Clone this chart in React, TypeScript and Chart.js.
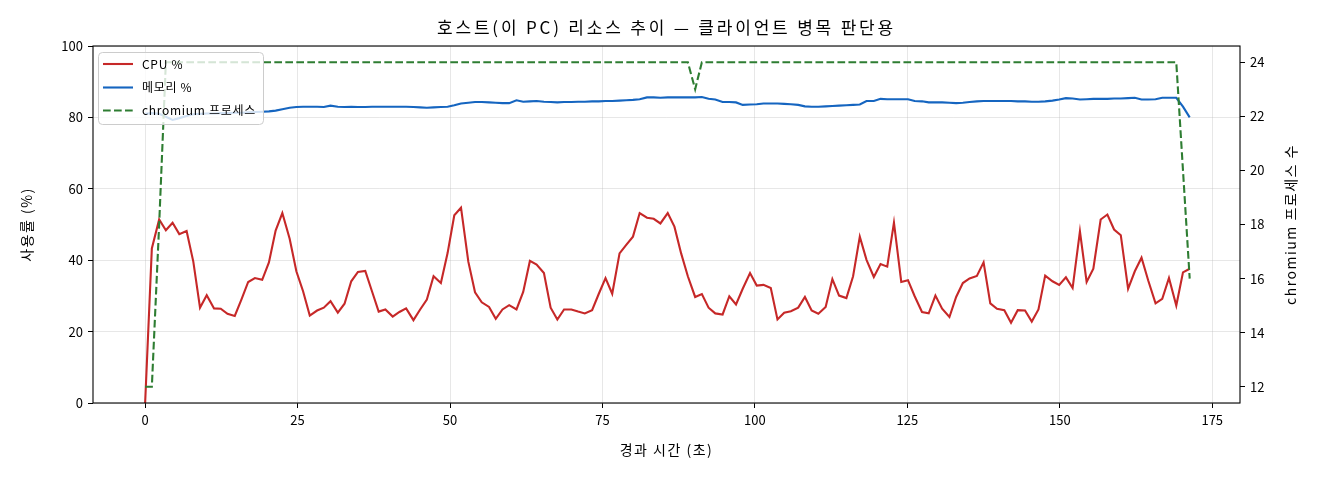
import React, { useEffect, useRef } from "react";
import { Chart, registerables } from "chart.js";

Chart.register(...registerables);

const TITLE = "호스트(이 PC) 리소스 추이 — 클라이언트 병목 판단용";
const X_LABEL = "경과 시간 (초)";
const Y_LABEL = "사용률 (%)";
const Y2_LABEL = "chromium 프로세스 수";
const SERIES_LABELS = ["CPU %", "메모리 %", "chromium 프로세스"];

// elapsed seconds of each sample
const times = [
  0.0, 1.1, 2.3, 3.4, 4.5, 5.6, 6.8, 7.9, 9.0, 10.1, 11.3, 12.4, 13.5, 14.7, 15.8, 16.9, 18.0, 19.2, 20.3, 21.4,
  22.5, 23.7, 24.8, 25.9, 27.0, 28.2, 29.3, 30.4, 31.6, 32.7, 33.8, 34.9, 36.1, 37.2, 38.3, 39.4, 40.6, 41.7, 42.8, 44.0,
  45.1, 46.2, 47.3, 48.5, 49.6, 50.7, 51.8, 53.0, 54.1, 55.2, 56.4, 57.5, 58.6, 59.7, 60.9, 62.0, 63.1, 64.2, 65.4, 66.5,
  67.6, 68.7, 69.9, 71.0, 72.1, 73.3, 74.4, 75.5, 76.6, 77.8, 78.9, 80.0, 81.1, 82.3, 83.4, 84.5, 85.7, 86.8, 87.9, 89.0,
  90.2, 91.3, 92.4, 93.5, 94.7, 95.8, 96.9, 98.0, 99.2, 100.3, 101.4, 102.6, 103.7, 104.8, 105.9, 107.1, 108.2, 109.3, 110.4, 111.6,
  112.7, 113.8, 115.0, 116.1, 117.2, 118.3, 119.5, 120.6, 121.7, 122.8, 124.0, 125.1, 126.2, 127.4, 128.5, 129.6, 130.7, 131.9, 133.0, 134.1,
  135.2, 136.4, 137.5, 138.6, 139.7, 140.9, 142.0, 143.1, 144.3, 145.4, 146.5, 147.6, 148.8, 149.9, 151.0, 152.1, 153.3, 154.4, 155.5, 156.7,
  157.8, 158.9, 160.0, 161.2, 162.3, 163.4, 164.5, 165.7, 166.8, 167.9, 169.1, 170.2, 171.3,
];

const cpuPercent = [
  0, 43.3, 51.4, 48.4, 50.5, 47.3, 48.2, 39.6, 26.7, 30.2, 26.5, 26.4, 25.0, 24.4, 29.0, 33.9, 35.0, 34.5, 39.4, 48.3,
  53.2, 46.0, 36.9, 31.3, 24.5, 25.9, 26.7, 28.5, 25.3, 27.8, 34.1, 36.7, 37.0, 31.3, 25.6, 26.2, 24.2, 25.5, 26.5, 23.2,
  26.2, 29.0, 35.5, 33.6, 42.0, 52.6, 54.7, 39.6, 31.0, 28.2, 26.9, 23.6, 26.2, 27.4, 26.2, 31.1, 39.8, 38.8, 36.4, 26.7,
  23.4, 26.2, 26.2, 25.6, 25.1, 26.0, 30.6, 35.0, 30.6, 41.9, 44.3, 46.6, 53.2, 51.9, 51.6, 50.3, 53.2, 49.4, 41.9, 35.5,
  29.7, 30.5, 26.7, 25.1, 24.8, 29.9, 27.6, 32.0, 36.4, 32.9, 33.1, 32.2, 23.4, 25.3, 25.7, 26.7, 29.7, 25.9, 25.0, 26.9,
  34.7, 30.1, 29.4, 35.5, 46.6, 40.1, 35.3, 38.9, 38.2, 50.5, 33.9, 34.4, 29.9, 25.5, 25.1, 30.1, 26.4, 24.1, 29.7, 33.6,
  34.9, 35.6, 39.4, 27.9, 26.4, 26.0, 22.5, 26.0, 25.9, 22.8, 26.2, 35.7, 34.1, 33.1, 35.2, 32.2, 48.1, 33.9, 37.6, 51.4,
  52.8, 48.6, 47.0, 32.0, 36.9, 40.7, 34.3, 27.9, 29.2, 35.0, 27.3, 36.6, 37.6,
];

const memoryPercent = [
  81.0, 81.2, 81.0, 80.2, 79.3, 79.8, 80.4, 80.9, 81.0, 81.1, 81.1, 81.2, 81.2, 81.3, 81.3, 81.4, 81.5, 81.6, 81.7, 81.9,
  82.3, 82.7, 82.9, 83.0, 83.0, 83.0, 82.9, 83.3, 83.0, 82.9, 83.0, 82.9, 82.9, 83.0, 83.0, 83.0, 83.0, 83.0, 83.0, 82.9,
  82.8, 82.7, 82.8, 82.9, 83.0, 83.4, 83.9, 84.1, 84.3, 84.3, 84.2, 84.1, 84.0, 84.0, 84.8, 84.4, 84.5, 84.6, 84.4, 84.3,
  84.2, 84.3, 84.3, 84.4, 84.4, 84.5, 84.5, 84.6, 84.6, 84.7, 84.8, 84.9, 85.1, 85.6, 85.6, 85.5, 85.6, 85.6, 85.6, 85.6,
  85.6, 85.7, 85.2, 85.0, 84.3, 84.3, 84.2, 83.5, 83.6, 83.7, 83.9, 83.9, 83.9, 83.8, 83.7, 83.5, 83.1, 83.0, 83.0, 83.1,
  83.2, 83.3, 83.4, 83.5, 83.6, 84.6, 84.6, 85.2, 85.1, 85.1, 85.1, 85.1, 84.6, 84.5, 84.2, 84.2, 84.2, 84.1, 84.0, 84.1,
  84.3, 84.5, 84.6, 84.6, 84.6, 84.6, 84.6, 84.5, 84.5, 84.4, 84.4, 84.5, 84.7, 85.0, 85.4, 85.3, 85.0, 85.1, 85.2, 85.2,
  85.2, 85.3, 85.3, 85.4, 85.5, 85.0, 85.0, 85.1, 85.5, 85.5, 85.5, 83.0, 80.0,
];

const chromiumCount = [
  12, 12, 18, 24, 24, 24, 24, 24, 24, 24, 24, 24, 24, 24, 24, 24, 24, 24, 24, 24,
  24, 24, 24, 24, 24, 24, 24, 24, 24, 24, 24, 24, 24, 24, 24, 24, 24, 24, 24, 24,
  24, 24, 24, 24, 24, 24, 24, 24, 24, 24, 24, 24, 24, 24, 24, 24, 24, 24, 24, 24,
  24, 24, 24, 24, 24, 24, 24, 24, 24, 24, 24, 24, 24, 24, 24, 24, 24, 24, 24, 24,
  23, 24, 24, 24, 24, 24, 24, 24, 24, 24, 24, 24, 24, 24, 24, 24, 24, 24, 24, 24,
  24, 24, 24, 24, 24, 24, 24, 24, 24, 24, 24, 24, 24, 24, 24, 24, 24, 24, 24, 24,
  24, 24, 24, 24, 24, 24, 24, 24, 24, 24, 24, 24, 24, 24, 24, 24, 24, 24, 24, 24,
  24, 24, 24, 24, 24, 24, 24, 24, 24, 24, 24, 20, 16,
];

const COLORS = ["#c62828", "#1565c0", "#2e7d32"];
const DASH = [7.7, 3.3];
const FONT = '"Noto Sans CJK KR", "Noto Sans", sans-serif';
const GRID = "rgba(176,176,176,0.3)";

const toPoints = (values: number[]) => values.map((v, i) => ({ x: times[i], y: v }));

// frame, legend and titles drawn the way matplotlib places them
const overlay = {
  id: "overlay",
  afterDraw(chart: any) {
    const { ctx, chartArea: a } = chart;
    ctx.save();
    ctx.strokeStyle = "#000";
    ctx.lineWidth = 1.1;
    ctx.strokeRect(a.left, a.top, a.right - a.left, a.bottom - a.top);

    // legend
    const lx = 98, ly = 52, lw = 165, lh = 72;
    ctx.beginPath();
    ctx.roundRect(lx + 0.5, ly + 0.5, lw, lh, 4);
    ctx.fillStyle = "rgba(255,255,255,0.8)";
    ctx.fill();
    ctx.strokeStyle = "#cccccc";
    ctx.lineWidth = 1;
    ctx.stroke();
    const rows = [64, 87.5, 110.5];
    ctx.font = `12px ${FONT}`;
    ctx.letterSpacing = "0.7px";
    ctx.textAlign = "left";
    ctx.textBaseline = "middle";
    SERIES_LABELS.forEach((label, i) => {
      ctx.beginPath();
      ctx.setLineDash(i === 2 ? DASH : []);
      ctx.strokeStyle = COLORS[i];
      ctx.lineWidth = 2.1;
      ctx.moveTo(103, rows[i]);
      ctx.lineTo(133, rows[i]);
      ctx.stroke();
      ctx.setLineDash([]);
      ctx.fillStyle = "#000";
      ctx.fillText(label, 142, rows[i]);
    });

    ctx.fillStyle = "#000";
    ctx.textAlign = "center";
    ctx.textBaseline = "middle";
    const cx = (a.left + a.right) / 2;
    const cy = (a.top + a.bottom) / 2;
    ctx.font = `17px ${FONT}`;
    ctx.letterSpacing = "2.8px";
    ctx.fillText(TITLE, cx, 28);
    ctx.font = `14px ${FONT}`;
    ctx.letterSpacing = "1.5px";
    ctx.fillText(X_LABEL, cx, 450);
    ctx.save();
    ctx.translate(27, cy);
    ctx.rotate(-Math.PI / 2);
    ctx.fillText(Y_LABEL, 0, 0);
    ctx.restore();
    ctx.save();
    ctx.translate(1291, cy);
    ctx.rotate(-Math.PI / 2);
    ctx.fillText(Y2_LABEL, 0, 0);
    ctx.restore();
    ctx.letterSpacing = "0px";
    ctx.restore();
  },
};

const tickFont = { family: FONT, size: 13 };

const App: React.FC = () => {
  const canvasRef = useRef<HTMLCanvasElement | null>(null);

  useEffect(() => {
    if (!canvasRef.current) return;
    const chart = new Chart(canvasRef.current, {
      type: "line",
      data: {
        datasets: [
          {
            label: SERIES_LABELS[0],
            data: toPoints(cpuPercent),
            borderColor: COLORS[0],
            borderWidth: 2.1,
            pointRadius: 0,
            yAxisID: "y",
            order: 2,
          },
          {
            label: SERIES_LABELS[1],
            data: toPoints(memoryPercent),
            borderColor: COLORS[1],
            borderWidth: 2.1,
            pointRadius: 0,
            yAxisID: "y",
            order: 1,
          },
          {
            label: SERIES_LABELS[2],
            data: toPoints(chromiumCount),
            borderColor: COLORS[2],
            borderWidth: 2.1,
            borderDash: DASH,
            pointRadius: 0,
            yAxisID: "y1",
            order: 0,
          },
        ],
      },
      options: {
        animation: false,
        responsive: true,
        maintainAspectRatio: false,
        layout: { padding: { top: 46, left: 0, right: 0, bottom: 0 } },
        plugins: {
          legend: { display: false },
          tooltip: { enabled: false },
        },
        scales: {
          x: {
            type: "linear",
            min: -8.55,
            max: 179.55,
            afterFit: (s: any) => {
              s.height = 77;
            },
            ticks: { stepSize: 25, includeBounds: false, color: "#000", font: tickFont, padding: 4, maxRotation: 0 },
            grid: { color: GRID, lineWidth: 1, tickColor: "#000", tickLength: 5 },
            border: { display: false },
          },
          y: {
            position: "left",
            min: 0,
            max: 100,
            afterFit: (s: any) => {
              s.width = 93;
            },
            ticks: { stepSize: 20, includeBounds: false, color: "#000", font: tickFont, padding: 5 },
            grid: { color: GRID, lineWidth: 1, tickColor: "#000", tickLength: 5 },
            border: { display: false },
          },
          y1: {
            position: "right",
            min: 11.4,
            max: 24.6,
            afterFit: (s: any) => {
              s.width = 80;
            },
            ticks: { stepSize: 2, includeBounds: false, color: "#000", font: tickFont, padding: 5 },
            grid: { drawOnChartArea: false, tickColor: "#000", tickLength: 5 },
            border: { display: false },
          },
        },
      },
      plugins: [overlay],
    });
    return () => chart.destroy();
  }, []);

  return (
    <div style={{ position: "fixed", left: 0, top: 0, width: 1320, height: 480, background: "#fff" }}>
      <canvas ref={canvasRef}></canvas>
    </div>
  );
};

export default App;
